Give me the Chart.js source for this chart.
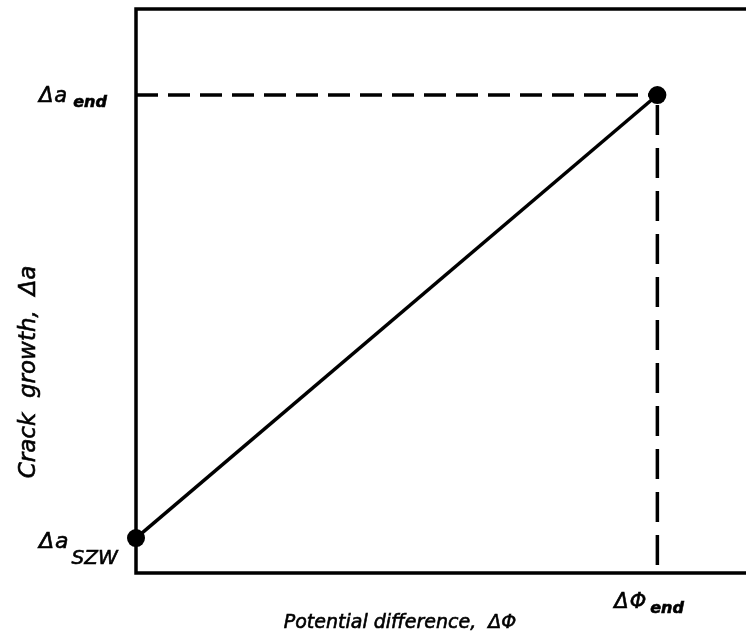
<!DOCTYPE html>
<html>
<head>
<meta charset="utf-8">
<script src="https://cdn.jsdelivr.net/npm/chart.js@4.4.1/dist/chart.umd.min.js"></script>
<style>
  html, body { margin: 0; padding: 0; background: #fff; }
  canvas { display: block; }
</style>
</head>
<body>
<canvas id="c" width="746" height="640"></canvas>
<script>
// Calibration line: crack growth against potential difference (normalised units)
const potentialDiff = [0, 1];          // ΔΦ at start, ΔΦ_end
const crackGrowth   = [0.073, 1];      // Δa_SZW, Δa_end
const xTickLabels   = [{ main: 'ΔΦ', sub: 'end', value: 1 }];
const yTickLabels   = [
  { main: 'Δa', sub: 'end', value: 1 },
  { main: 'Δa', sub: 'SZW', value: 0.073 }
];
const xTitle = 'Potential difference,  ΔΦ';
const yTitle = 'Crack  growth,  Δa';

const FONT = '"DejaVu Sans", "Liberation Sans", sans-serif';
const INK = '#000';

const points = potentialDiff.map((x, i) => ({ x, y: crackGrowth[i] }));
const lastX = potentialDiff[potentialDiff.length - 1];
const lastY = crackGrowth[crackGrowth.length - 1];

// label styles per tick (font sizes and offsets from the tick position)
const yLabelStyle = {
  end: { size: 21, subSize: 16, subBold: true,  left: 39, dyMain: 7,  dySub: 12, gap: 5 },
  SZW: { size: 22, subSize: 20, subBold: false, left: 39, dyMain: 10, dySub: 26, gap: 2 }
};

// text filled and lightly stroked for a heavier pen weight
function inkText(ctx, s, x, y) {
  ctx.fillText(s, x, y);
  ctx.strokeText(s, x, y);
}

function drawSubLabel(ctx, t, st, x0, yMain, ySub) {
  const mainFont = `italic ${st.size}px ${FONT}`;
  const subFont = `italic ${st.subBold ? 'bold ' : ''}${st.subSize}px ${FONT}`;
  ctx.font = mainFont;
  ctx.letterSpacing = '1px';
  const wMain = ctx.measureText(t.main).width;
  inkText(ctx, t.main, x0, yMain);
  ctx.letterSpacing = '0px';
  ctx.font = subFont;
  inkText(ctx, t.sub, x0 + wMain + st.gap, ySub);
}

// Text, reference lines and frame drawn on top of the library's scales
const annotate = {
  id: 'annotate',
  beforeDatasetsDraw(chart) {
    const { ctx, scales: { x, y }, chartArea: a } = chart;
    const px = x.getPixelForValue(lastX);
    const py = y.getPixelForValue(lastY);
    ctx.save();
    ctx.strokeStyle = INK;
    ctx.lineWidth = 3.5;
    ctx.setLineDash([22, 10]);
    ctx.beginPath();
    ctx.moveTo(a.left, py); ctx.lineTo(px, py);
    ctx.stroke();
    ctx.setLineDash([30, 13]);
    ctx.beginPath();
    ctx.moveTo(px, py + 10); ctx.lineTo(px, a.bottom);
    ctx.stroke();
    ctx.restore();
  },
  afterDraw(chart) {
    const { ctx, scales: { x, y }, chartArea: a, width } = chart;
    ctx.save();
    ctx.fillStyle = INK;
    ctx.strokeStyle = INK;
    ctx.lineWidth = 0.6;
    ctx.textBaseline = 'alphabetic';

    // y tick labels with subscripts
    yTickLabels.forEach(t => {
      const py = y.getPixelForValue(t.value);
      const st = yLabelStyle[t.sub];
      drawSubLabel(ctx, t, st, st.left, py + st.dyMain, py + st.dySub);
    });

    // x tick label with subscript
    xTickLabels.forEach(t => {
      const px = x.getPixelForValue(t.value);
      const st = { size: 21, subSize: 16, subBold: true, gap: 3 };
      drawSubLabel(ctx, t, st, px - 43, a.bottom + 35, a.bottom + 40);
    });

    // axis titles
    ctx.font = `italic 19px ${FONT}`;
    ctx.textAlign = 'center';
    inkText(ctx, xTitle, 400, 628);
    ctx.save();
    ctx.font = `italic 23px ${FONT}`;
    ctx.translate(35, 372);
    ctx.rotate(-Math.PI / 2);
    inkText(ctx, yTitle, 0, 0);
    ctx.restore();

    // frame: left, top and bottom edges, open to the right
    ctx.lineWidth = 3.5;
    ctx.setLineDash([]);
    ctx.beginPath();
    ctx.moveTo(width, a.top);
    ctx.lineTo(a.left, a.top);
    ctx.lineTo(a.left, a.bottom);
    ctx.lineTo(width, a.bottom);
    ctx.stroke();
    ctx.restore();
  }
};

new Chart(document.getElementById('c'), {
  type: 'scatter',
  data: {
    datasets: [{
      data: points,
      showLine: true,
      borderColor: INK,
      backgroundColor: INK,
      borderWidth: 3.5,
      pointRadius: 9,
      pointBackgroundColor: INK,
      pointBorderWidth: 0,
      clip: false
    }]
  },
  options: {
    responsive: false,
    animation: false,
    layout: { padding: 0, autoPadding: false },
    plugins: { legend: { display: false }, tooltip: { enabled: false } },
    scales: {
      x: {
        type: 'linear', min: 0, max: 1.17,
        grid: { display: false, drawTicks: false },
        border: { display: false },
        ticks: { display: false },
        afterFit(s) { s.height = 67; }
      },
      y: {
        type: 'linear', min: 0, max: 1.18,
        grid: { display: false, drawTicks: false },
        border: { display: false },
        ticks: { display: false },
        afterFit(s) { s.width = 136; }
      },
      top: {
        type: 'linear', position: 'top', axis: 'x', display: true,
        grid: { display: false, drawTicks: false },
        border: { display: false },
        ticks: { display: false },
        afterFit(s) { s.height = 9; }
      }
    }
  },
  plugins: [annotate]
});
</script>
</body>
</html>
